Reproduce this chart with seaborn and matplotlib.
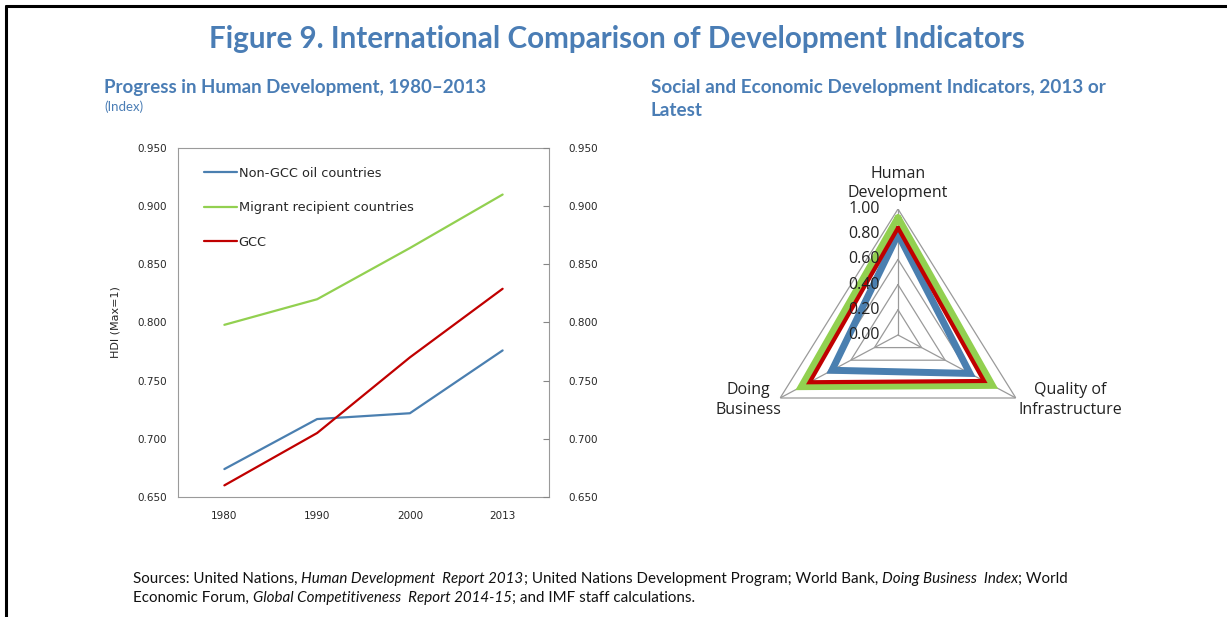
import numpy as np
import pandas as pd
import matplotlib
matplotlib.use("Agg")
import matplotlib.pyplot as plt
import seaborn as sns
from matplotlib.lines import Line2D

# ---- data ----
years = ["1980", "1990", "2000", "2013"]
non_gcc = [0.674, 0.717, 0.722, 0.776]
migrant = [0.798, 0.820, 0.864, 0.910]
gcc = [0.660, 0.705, 0.770, 0.829]
series_names = ["Non-GCC oil countries", "Migrant recipient countries", "GCC"]

radar_axes = ["Human\nDevelopment", "Quality of\nInfrastructure", "Doing\nBusiness"]
radar_non_gcc = [0.80, 0.61, 0.56]
radar_migrant = [0.93, 0.80, 0.82]
radar_gcc = [0.85, 0.73, 0.75]
radar_levels = [0.0, 0.2, 0.4, 0.6, 0.8, 1.0]

yticks = [0.650, 0.700, 0.750, 0.800, 0.850, 0.900, 0.950]

colors = {"Non-GCC oil countries": "#4a7fb0",
          "Migrant recipient countries": "#92d050",
          "GCC": "#c00000"}
title_blue = "#4a7db5"

sns.set_theme(style="white")
plt.rcParams["font.family"] = ["DejaVu Sans"]

fig = plt.figure(figsize=(12.27, 6.17), dpi=100)

# border lines (left + top)
fig.add_artist(Line2D([6 / 1227, 6 / 1227], [0, 1 - 6 / 617], color="black", lw=2.2))
fig.add_artist(Line2D([6 / 1227, 1], [1 - 6 / 617, 1 - 6 / 617], color="black", lw=2.2))

fig.text(617 / 1227, 1 - 39 / 617, "Figure 9. International Comparison of Development Indicators",
         ha="center", va="center", fontsize=21.3, fontweight="bold", color=title_blue, family="Lato")
fig.text(104 / 1227, 1 - 87 / 617, "Progress in Human Development, 1980\u20132013",
         ha="left", va="center", fontsize=13.5, fontweight="bold", color=title_blue, family="Lato")
fig.text(104 / 1227, 1 - 107 / 617, "(Index)", ha="left", va="center", fontsize=9.5,
         color=title_blue, family="Lato")
fig.text(651 / 1227, 1 - 88 / 617, "Social and Economic Development Indicators, 2013 or",
         ha="left", va="center", fontsize=13.6, fontweight="bold", color=title_blue, family="Lato")
fig.text(651 / 1227, 1 - 111 / 617, "Latest",
         ha="left", va="center", fontsize=13.6, fontweight="bold", color=title_blue, family="Lato")

# ---- left: line chart ----
df = pd.DataFrame({
    "year": years * 3,
    "pos": list(range(len(years))) * 3,
    "value": non_gcc + migrant + gcc,
    "series": [series_names[0]] * 4 + [series_names[1]] * 4 + [series_names[2]] * 4,
})

ax = fig.add_axes([178 / 1227, 1 - 497 / 617, 371 / 1227, 349 / 617])
sns.lineplot(data=df, x="pos", y="value", hue="series", hue_order=series_names,
             palette=colors, linewidth=1.6, ax=ax, legend=True)
ax.set_xlim(-0.5, 3.5)
ax.set_ylim(0.65, 0.95)
ax.set_yticks(yticks)
ax.set_yticklabels([f"{v:.3f}" for v in yticks], fontsize=7.5)
ax.set_xticks(range(len(years)))
ax.set_xticklabels(years, fontsize=7.5)
ax.set_xticks([0.5, 1.5, 2.5], minor=True)
ax.tick_params(axis="x", which="major", length=0, pad=10)
ax.tick_params(axis="x", which="minor", direction="in", length=4, color="#868686", width=0.8)
ax.tick_params(axis="y", length=0, pad=8)
ax.set_xlabel("")
ax.set_ylabel("HDI (Max=1)", fontsize=8, labelpad=12)
for sp in ax.spines.values():
    sp.set_color("#9a9a9a")
    sp.set_linewidth(0.8)

leg = ax.legend(loc="upper left", bbox_to_anchor=(0.04, 0.98), frameon=False,
                fontsize=9.3, handlelength=2.5, handletextpad=0.15, labelspacing=1.68)
for h in leg.get_lines():
    h.set_linewidth(1.6)

ax2 = ax.twinx()
ax2.set_ylim(0.65, 0.95)
ax2.set_yticks(yticks)
ax2.set_yticklabels([f"{v:.3f}" for v in yticks], fontsize=7.5)
ax2.tick_params(axis="y", direction="in", length=4, pad=14, color="#868686", width=0.8)
ax2.grid(False)
for sp in ax2.spines.values():
    sp.set_visible(False)

# ---- right: radar ----
cx, cy, r_px, stretch = 898, 335, 126, 1.08
rax = fig.add_axes([(cx - r_px * stretch) / 1227, 1 - (cy + r_px) / 617,
                    2 * r_px * stretch / 1227, 2 * r_px / 617], projection="polar")
rax.set_aspect("auto")
rax.set_theta_offset(np.pi / 2)
rax.set_theta_direction(-1)
rax.set_ylim(0, 1)
rax.grid(False)
rax.spines["polar"].set_visible(False)
rax.set_xticks([])
rax.set_yticks([])
rax.patch.set_alpha(0)

n = len(radar_axes)
angles = [2 * np.pi * i / n for i in range(n)]
closed = angles + angles[:1]

for lvl in radar_levels[1:]:
    rax.plot(closed, [lvl] * (n + 1), color="#9a9a9a", lw=0.9, zorder=1)
for a in angles:
    rax.plot([a, a], [0, 1], color="#9a9a9a", lw=0.9, zorder=1)

for vals, name, lw in [(radar_non_gcc, series_names[0], 5),
                       (radar_migrant, series_names[1], 5),
                       (radar_gcc, series_names[2], 3)]:
    rax.plot(closed, vals + vals[:1], color=colors[name], lw=lw, zorder=3,
             solid_joinstyle="miter")

for lvl in radar_levels:
    rax.annotate(f"{lvl:.2f}", xy=(0, lvl), xytext=(-13, 0), textcoords="offset points",
                 ha="right", va="center", fontsize=11.5, color="#222222", family="Open Sans",
                 zorder=4, annotation_clip=False)

label_offsets = [(0, 18.5), (39, -1.5), (-23, -1.5)]
for a, lab, off in zip(angles, radar_axes, label_offsets):
    rax.annotate(lab, xy=(a, 1), xytext=off, textcoords="offset points",
                 ha="center", va="center", fontsize=11.5, color="#222222",
                 family="Open Sans", linespacing=1.3, annotation_clip=False)

# ---- sources ----
def write_line(x, y, parts):
    prev = fig.text(x, y, parts[0][0], fontsize=10.9, style=parts[0][1], family="Lato",
                    ha="left", va="bottom", color="#111111")
    for s, st in parts[1:]:
        prev = ax.annotate(s, xy=(1, 0), xycoords=prev, ha="left", va="bottom",
                           fontsize=10.9, style=st, family="Lato", color="#111111",
                           annotation_clip=False)

write_line(133 / 1227, 1 - 586 / 617, [
    ("Sources: United Nations, ", "normal"),
    ("Human Development  Report 2013", "italic"),
    ("; United Nations Development Program; World Bank, ", "normal"),
    ("Doing Business  Index", "italic"),
    ("; World", "normal"),
])
write_line(133 / 1227, 1 - 605 / 617, [
    ("Economic Forum, ", "normal"),
    ("Global Competitiveness  Report 2014-15", "italic"),
    ("; and IMF staff calculations.", "normal"),
])

fig.savefig("out.png", dpi=100)
